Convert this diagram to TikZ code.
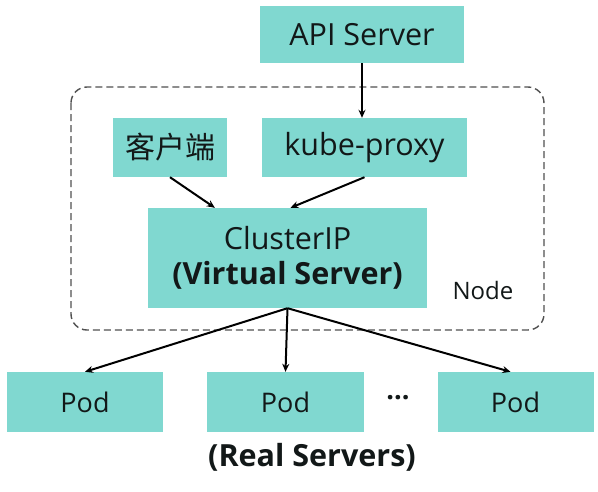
\documentclass[tikz,border=0pt]{standalone}
\usepackage{fontspec}
\setmainfont{Open Sans}
\newfontfamily\cjkfont{Noto Sans CJK SC}
\usetikzlibrary{arrows.meta,calc}
\definecolor{boxfill}{RGB}{128,216,208}
\definecolor{txt}{RGB}{18,24,24}
\definecolor{frame}{RGB}{80,80,80}
\tikzset{
  box/.style={draw=none, fill=boxfill, inner sep=0pt, text=txt},
  conn/.style={draw=black, line width=2pt, -{Stealth[length=8pt,width=7pt]}},
  nodeframe/.style={draw=frame, line width=1.4pt, dash pattern=on 7pt off 4pt, rounded corners=16pt}
}
\begin{document}
\begin{tikzpicture}[x=1pt,y=-1pt]
\useasboundingbox (0,0) rectangle (598,491);
\fill[white] (0,0) rectangle (598,491);
% node frame
\draw[nodeframe] (71,87) rectangle (544,330);
% boxes
\node[box, minimum width=204pt, minimum height=57pt, font=\fontsize{30.5}{36}\selectfont] (api) at (362,34.5) {API Server};
\node[box, minimum width=114pt, minimum height=59pt, font=\cjkfont\fontsize{30}{36}\selectfont] (client) at (170,147.5) {客户端};
\node[box, minimum width=205pt, minimum height=59pt, font=\fontsize{30.5}{36}\selectfont] (kp) at (364.5,147.5) {kube-proxy};
\node[box, minimum width=279pt, minimum height=100pt, align=center, font=\fontsize{30.5}{35}\selectfont] (cip) at (287.5,258) {ClusterIP\\{\bfseries\fontsize{30.5}{35}\selectfont (Virtual Server)}};
\node[box, minimum width=156pt, minimum height=60pt, font=\fontsize{27}{32}\selectfont] (pod1) at (85,402) {Pod};
\node[box, minimum width=157pt, minimum height=60pt, font=\fontsize{27}{32}\selectfont] (pod2) at (285.5,402) {Pod};
\node[box, minimum width=156pt, minimum height=60pt, font=\fontsize{27}{32}\selectfont] (pod3) at (515.5,402) {Pod};
\node[text=txt, font=\fontsize{27}{32}\selectfont\bfseries] (dots) at (398,398) {...};
\node[text=txt, font=\fontsize{24}{28}\selectfont] (nodelbl) at (483,290) {Node};
\node[text=txt, font=\bfseries\fontsize{30.5}{36}\selectfont] (real) at (312,457) {(Real Servers)};
% connectors
\draw[conn] (api.south) -- (api.south |- kp.north);
\draw[conn] (client.south) -- ($(cip.north west)!0.24!(cip.north east)$);
\draw[conn] (kp.south) -- ($(cip.north)+(3,0)$);
\draw[conn] (cip.south) -- (pod1.north);
\draw[conn] (cip.south) -- (pod2.north);
\draw[conn] (cip.south) -- ($(pod3.north)+(-5,0)$);
\end{tikzpicture}
\end{document}
